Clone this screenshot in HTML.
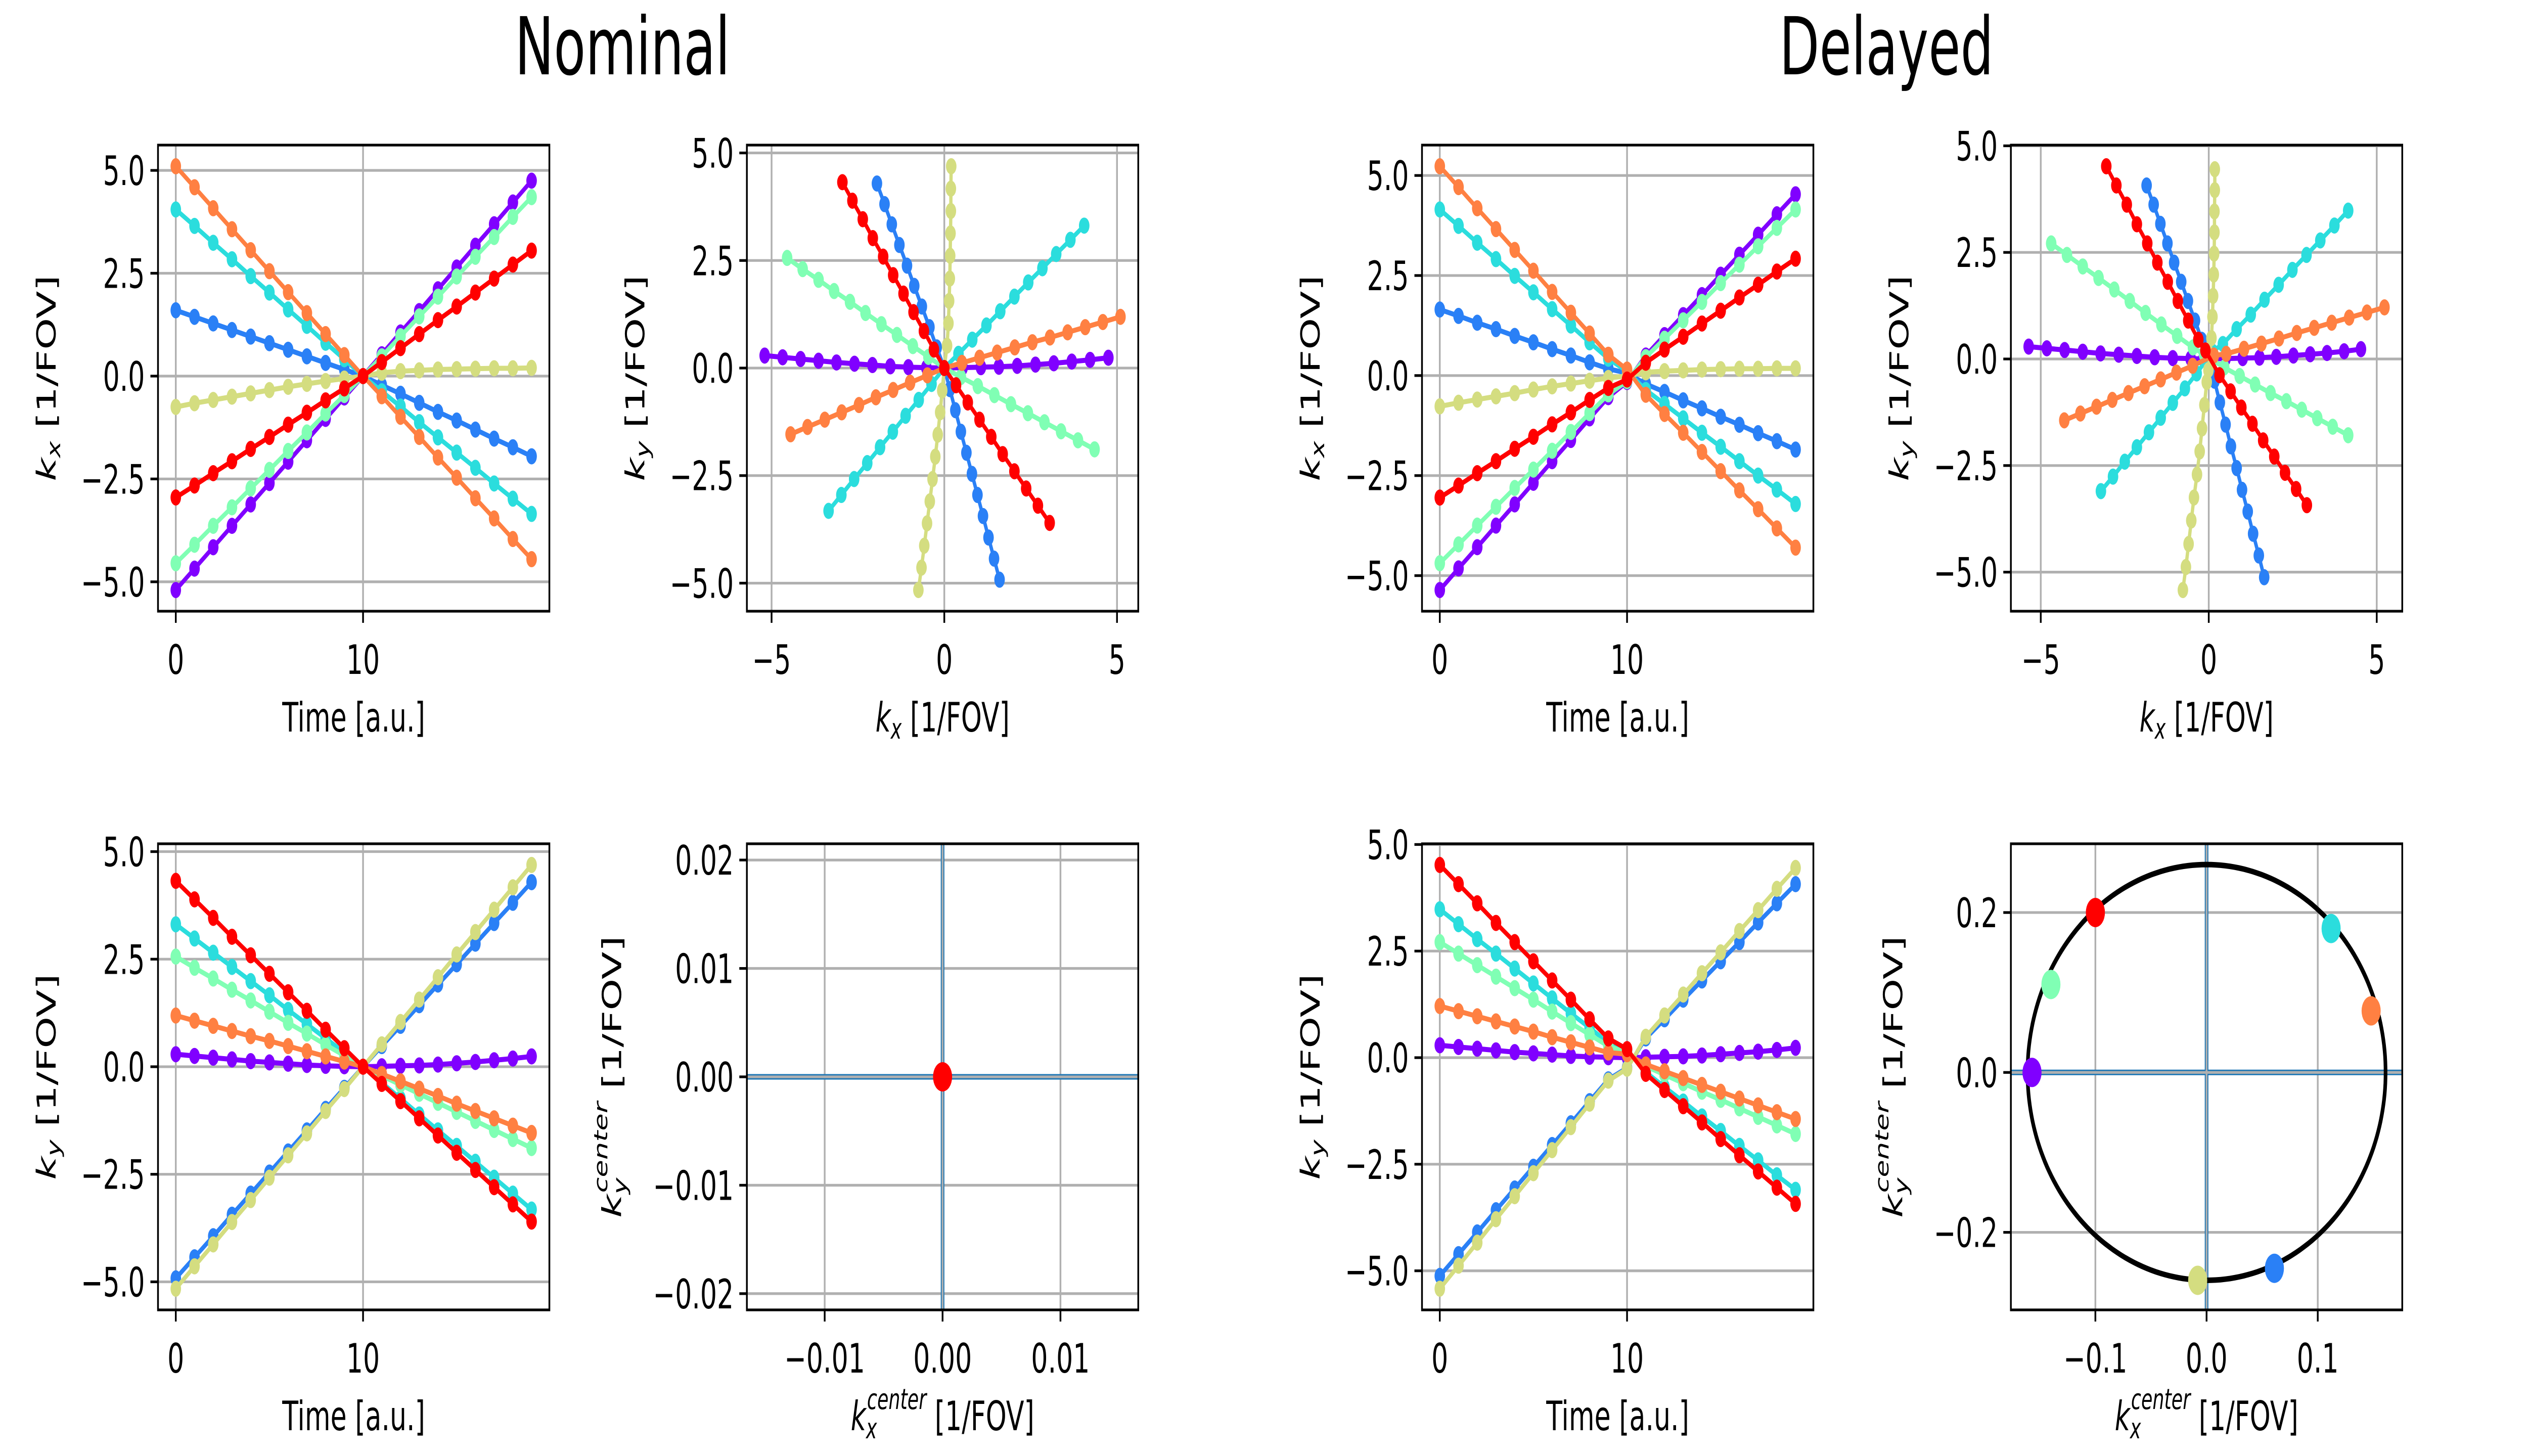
<!DOCTYPE html>
<html><head><meta charset="utf-8">
<style>
html,body{margin:0;padding:0;background:#fff;overflow:hidden;width:100vw;height:100vh;}
svg{display:block;width:100vw;height:100vh;font-family:"DejaVu Sans","Liberation Sans",sans-serif;}
</style></head>
<body>
<svg id="fig" xmlns="http://www.w3.org/2000/svg" viewBox="0 0 7680 2880" preserveAspectRatio="none">
<rect x="0" y="0" width="7680" height="2880" fill="#fff"/>
<text x="1891" y="147" font-size="158" text-anchor="middle" fill="#000">Nominal</text>
<text x="5731" y="147" font-size="158" text-anchor="middle" fill="#000">Delayed</text>
</svg>
<script>
// ---- data ----
const timePoints = [0,1,2,3,4,5,6,7,8,9,10,11,12,13,14,15,16,17,18,19];
const spokeNames = ['purple','blue','cyan','mint','khaki','orange','red'];
const spokeColors = ['#8000ff','#2a80f6','#2bdddd','#80ffb4','#d4dd80','#ff8042','#ff0000'];

// Nominal kx per spoke
const nomKxPurple = [-5.2,-4.68,-4.16,-3.64,-3.12,-2.6,-2.08,-1.56,-1.04,-0.52,0,0.53,1.06,1.58,2.11,2.64,3.17,3.69,4.22,4.75];
const nomKxBlue   = [1.6,1.44,1.28,1.12,0.96,0.8,0.64,0.48,0.32,0.16,0,-0.22,-0.43,-0.65,-0.87,-1.08,-1.3,-1.52,-1.73,-1.95];
const nomKxCyan   = [4.05,3.65,3.24,2.84,2.43,2.03,1.62,1.22,0.81,0.41,0,-0.37,-0.74,-1.12,-1.49,-1.86,-2.23,-2.61,-2.98,-3.35];
const nomKxMint   = [-4.55,-4.1,-3.64,-3.19,-2.73,-2.28,-1.82,-1.37,-0.91,-0.46,0,0.48,0.97,1.45,1.93,2.42,2.9,3.38,3.87,4.35];
const nomKxKhaki  = [-0.75,-0.66,-0.58,-0.5,-0.42,-0.34,-0.26,-0.19,-0.12,-0.06,0,0.08,0.12,0.14,0.16,0.17,0.18,0.19,0.19,0.2];
const nomKxOrange = [5.1,4.59,4.08,3.57,3.06,2.55,2.04,1.53,1.02,0.51,0,-0.49,-0.99,-1.48,-1.98,-2.47,-2.97,-3.46,-3.96,-4.45];
const nomKxRed    = [-2.95,-2.66,-2.36,-2.07,-1.77,-1.48,-1.18,-0.89,-0.59,-0.3,0,0.34,0.68,1.02,1.36,1.69,2.03,2.37,2.71,3.05];
// Nominal ky per spoke
const nomKyPurple = [0.29,0.25,0.21,0.17,0.13,0.1,0.07,0.04,0.02,0.01,0,0.01,0.02,0.03,0.05,0.08,0.11,0.15,0.19,0.24];
const nomKyBlue   = [-4.92,-4.43,-3.94,-3.44,-2.95,-2.46,-1.97,-1.48,-0.98,-0.49,0,0.48,0.95,1.43,1.91,2.38,2.86,3.34,3.81,4.29];
const nomKyCyan   = [3.31,2.98,2.65,2.32,1.99,1.66,1.32,0.99,0.66,0.33,0,-0.37,-0.74,-1.11,-1.48,-1.84,-2.21,-2.58,-2.95,-3.32];
const nomKyMint   = [2.56,2.3,2.05,1.79,1.54,1.28,1.02,0.77,0.51,0.26,0,-0.21,-0.42,-0.63,-0.84,-1.05,-1.26,-1.47,-1.68,-1.89];
const nomKyKhaki  = [-5.16,-4.64,-4.13,-3.61,-3.1,-2.58,-2.06,-1.55,-1.03,-0.52,0,0.52,1.04,1.56,2.08,2.61,3.13,3.65,4.17,4.69];
const nomKyOrange = [1.19,1.07,0.95,0.83,0.71,0.6,0.48,0.36,0.24,0.12,0,-0.17,-0.34,-0.51,-0.68,-0.86,-1.03,-1.2,-1.37,-1.54];
const nomKyRed    = [4.32,3.89,3.46,3.02,2.59,2.16,1.73,1.3,0.86,0.43,0,-0.4,-0.8,-1.2,-1.6,-2.0,-2.4,-2.8,-3.2,-3.6];
// Delayed kx per spoke
const delKxPurple = [-5.36,-4.82,-4.29,-3.75,-3.22,-2.68,-2.14,-1.61,-1.07,-0.54,-0.16,0.5,1.01,1.51,2.01,2.52,3.02,3.52,4.03,4.53];
const delKxBlue   = [1.65,1.49,1.32,1.16,0.99,0.83,0.66,0.5,0.33,0.17,0.06,-0.21,-0.41,-0.62,-0.82,-1.03,-1.23,-1.44,-1.64,-1.85];
const delKxCyan   = [4.15,3.74,3.32,2.91,2.49,2.08,1.66,1.25,0.83,0.42,0.11,-0.36,-0.71,-1.07,-1.43,-1.78,-2.14,-2.5,-2.85,-3.21];
const delKxMint   = [-4.69,-4.22,-3.75,-3.28,-2.81,-2.35,-1.88,-1.41,-0.94,-0.47,-0.14,0.46,0.92,1.38,1.84,2.31,2.77,3.23,3.69,4.15];
const delKxKhaki  = [-0.77,-0.68,-0.6,-0.52,-0.44,-0.35,-0.27,-0.2,-0.13,-0.06,-0.01,0.08,0.11,0.13,0.15,0.16,0.17,0.17,0.18,0.18];
const delKxOrange = [5.23,4.71,4.18,3.66,3.14,2.62,2.09,1.57,1.05,0.52,0.15,-0.48,-0.96,-1.43,-1.91,-2.39,-2.87,-3.34,-3.82,-4.3];
const delKxRed    = [-3.05,-2.75,-2.44,-2.14,-1.83,-1.53,-1.22,-0.92,-0.61,-0.31,-0.1,0.32,0.65,0.97,1.3,1.62,1.95,2.27,2.6,2.92];
// Delayed ky per spoke
const delKyPurple = [0.29,0.25,0.21,0.17,0.13,0.1,0.07,0.04,0.02,0.01,0,0.01,0.02,0.03,0.05,0.08,0.11,0.14,0.18,0.23];
const delKyBlue   = [-5.12,-4.61,-4.1,-3.58,-3.07,-2.56,-2.05,-1.54,-1.02,-0.51,-0.24,0.45,0.9,1.36,1.81,2.26,2.71,3.17,3.62,4.07];
const delKyCyan   = [3.48,3.13,2.78,2.44,2.09,1.74,1.39,1.04,0.7,0.35,0.18,-0.34,-0.69,-1.03,-1.38,-1.72,-2.07,-2.41,-2.76,-3.1];
const delKyMint   = [2.71,2.44,2.17,1.9,1.63,1.36,1.08,0.81,0.54,0.27,0.11,-0.2,-0.4,-0.6,-0.8,-0.99,-1.19,-1.39,-1.59,-1.79];
const delKyKhaki  = [-5.42,-4.88,-4.34,-3.79,-3.25,-2.71,-2.17,-1.63,-1.08,-0.54,-0.26,0.49,0.99,1.48,1.98,2.47,2.97,3.46,3.96,4.45];
const delKyOrange = [1.21,1.09,0.97,0.85,0.73,0.61,0.48,0.36,0.24,0.12,0.08,-0.16,-0.32,-0.48,-0.64,-0.8,-0.96,-1.12,-1.28,-1.44];
const delKyRed    = [4.52,4.07,3.62,3.16,2.71,2.26,1.81,1.36,0.9,0.45,0.2,-0.38,-0.76,-1.14,-1.52,-1.91,-2.29,-2.67,-3.05,-3.43];
// k-space centers
const nomCenterKx = [0];
const nomCenterKy = [0];
const nomCenterColors = ['#ff0000'];
const delCenterKx = [-0.157,0.061,0.112,-0.14,-0.008,0.148,-0.1];
const delCenterKy = [0.0,-0.245,0.18,0.11,-0.26,0.077,0.2];
const delEllipseRadii = [0.161,0.26];
// tick values / labels
const timeTicks = [0,10];
const timeTickLabels = ['0','10'];
const kTicks = [-5,-2.5,0,2.5,5];
const kTickLabels = ['\u22125.0','\u22122.5','0.0','2.5','5.0'];
const kTicksInt = [-5,0,5];
const kTickIntLabels = ['\u22125','0','5'];
const nomCenterTicks = [-0.01,0,0.01];
const nomCenterTickLabels = ['\u22120.01','0.00','0.01'];
const nomCenterYTicks = [-0.02,-0.01,0,0.01,0.02];
const nomCenterYTickLabels = ['\u22120.02','\u22120.01','0.00','0.01','0.02'];
const delCenterTicks = [-0.1,0,0.1];
const delCenterTickLabels = ['\u22120.1','0.0','0.1'];
const delCenterYTicks = [-0.2,0,0.2];
const delCenterYTickLabels = ['\u22120.2','0.0','0.2'];

const nomKx = [nomKxPurple,nomKxBlue,nomKxCyan,nomKxMint,nomKxKhaki,nomKxOrange,nomKxRed];
const nomKy = [nomKyPurple,nomKyBlue,nomKyCyan,nomKyMint,nomKyKhaki,nomKyOrange,nomKyRed];
const delKx = [delKxPurple,delKxBlue,delKxCyan,delKxMint,delKxKhaki,delKxOrange,delKxRed];
const delKy = [delKyPurple,delKyBlue,delKyCyan,delKyMint,delKyKhaki,delKyOrange,delKyRed];

// ---- rendering ----
const NS = 'http://www.w3.org/2000/svg';
const svg = document.getElementById('fig');
function mk(tag, attrs, parent){
  const e = document.createElementNS(NS, tag);
  for (const k in attrs) e.setAttribute(k, attrs[k]);
  (parent||svg).appendChild(e);
  return e;
}
function autoLim(arrs){
  let lo=Infinity, hi=-Infinity;
  arrs.forEach(a=>a.forEach(v=>{ if(v<lo)lo=v; if(v>hi)hi=v; }));
  const m=(hi-lo)*0.05; return [lo-m, hi+m];
}
const GRID='#b0b0b0';
function axes(name, box, xlim, ylim, xt, xtl, yt, ytl, xlabelFn, ylabelFn){
  const g = mk('g', {});
  
  
  const sx = v => box.x + (v - xlim[0])/(xlim[1]-xlim[0])*box.w;
  const sy = v => box.y + box.h - (v - ylim[0])/(ylim[1]-ylim[0])*box.h;
  const grid = mk('g', {}, g);
  
  
  xt.forEach((v,i)=>{
    const X=sx(v);
    mk('line',{x1:X,x2:X,y1:box.y,y2:box.y+box.h,stroke:GRID,'stroke-width':5.3},grid);
    const t=mk('line',{x1:X,x2:X,y1:box.y+box.h,y2:box.y+box.h+23,stroke:'#000','stroke-width':5.3},g);
    
    
    const lb=mk('text',{x:X,y:box.y+box.h+124,'font-size':80,'text-anchor':'middle',fill:'#000'},g);
    
    
    lb.textContent=xtl[i];
  });
  yt.forEach((v,i)=>{
    const Y=sy(v);
    mk('line',{x1:box.x,x2:box.x+box.w,y1:Y,y2:Y,stroke:GRID,'stroke-width':5.3},grid);
    const t=mk('line',{x1:box.x-23,x2:box.x,y1:Y,y2:Y,stroke:'#000','stroke-width':5.3},g);
    
    
    const lb=mk('text',{x:box.x-40,y:Y+29,'font-size':80,'text-anchor':'end',fill:'#000'},g);
    
    
    lb.textContent=ytl[i];
  });
  const plot = mk('g', {}, g);
  
  
  const xl = mk('text',{x:box.x+box.w/2,y:box.y+box.h+238,'font-size':80,'text-anchor':'middle',fill:'#000'},g);
  
  
  xlabelFn(xl);
  const yx = box.x - (box.ylabOff||311), yy = box.y+box.h/2;
  const yl = mk('text',{x:yx,y:yy,'font-size':80,'text-anchor':'middle',fill:'#000',transform:'rotate(-90 '+yx+' '+yy+')'},g);
  
  
  ylabelFn(yl);
  return {g, plot, sx, sy, box};
}
function spines(ax){
  const r = mk('rect',{x:ax.box.x,y:ax.box.y,width:ax.box.w,height:ax.box.h,fill:'none',stroke:'#000','stroke-width':5.3},ax.g);
  
  
}
function series(ax, xs, ys, color, nm){
  const sg = mk('g',{},ax.plot);
  
  
  const pts = xs.map((v,i)=>ax.sx(v).toFixed(1)+','+ax.sy(ys[i]).toFixed(1)).join(' ');
  mk('polyline',{points:pts,fill:'none',stroke:color,'stroke-width':10,'stroke-linejoin':'round','stroke-linecap':'round'},sg);
  xs.forEach((v,i)=>{
    const c = mk('circle',{cx:ax.sx(v),cy:ax.sy(ys[i]),r:16,fill:color},sg);
    
    
  });
}
function tsp(el, txt, attrs){ const t=mk('tspan',attrs||{},el); t.textContent=txt; return t; }
function labelTime(el){ el.textContent='Time [a.u.]'; }
function labelK(sub){ return el=>{ tsp(el,'k',{'font-style':'italic'}); tsp(el,sub,{'font-style':'italic','font-size':56,dy:14}); tsp(el,' [1/FOV]',{dy:-14}); }; }
function labelKc(sub){ return el=>{ tsp(el,'k',{'font-style':'italic'}); tsp(el,sub,{'font-style':'italic','font-size':56,dy:16}); tsp(el,'center',{'font-style':'italic','font-size':56,dx:-30,dy:-58}); tsp(el,' [1/FOV]',{dy:42}); }; }

const colX = [480, 2269, 4320, 6109];
const rowY = [287, 1669];
const W = 1189, H = 922;

function kPanels(prefix, col0, KX, KY){
  const tlim = autoLim([timePoints]);
  const kxlim = autoLim(KX), kylim = autoLim(KY);
  let ax = axes(prefix+'-kx-vs-time',{x:colX[col0],y:rowY[0],w:W,h:H},tlim,kxlim,timeTicks,timeTickLabels,kTicks,kTickLabels,labelTime,labelK('x'));
  KX.forEach((s,i)=>series(ax,timePoints,s,spokeColors[i],'spoke-'+spokeNames[i]));
  spines(ax);
  ax = axes(prefix+'-ky-vs-kx',{x:colX[col0+1],y:rowY[0],w:W,h:H},kxlim,kylim,kTicksInt,kTickIntLabels,kTicks,kTickLabels,labelK('x'),labelK('y'));
  KX.forEach((s,i)=>series(ax,s,KY[i],spokeColors[i],'spoke-'+spokeNames[i]));
  spines(ax);
  ax = axes(prefix+'-ky-vs-time',{x:colX[col0],y:rowY[1],w:W,h:H},tlim,kylim,timeTicks,timeTickLabels,kTicks,kTickLabels,labelTime,labelK('y'));
  KY.forEach((s,i)=>series(ax,timePoints,s,spokeColors[i],'spoke-'+spokeNames[i]));
  spines(ax);
}
kPanels('nominal',0,nomKx,nomKy);
kPanels('delayed',2,delKx,delKy);

function centerLines(ax){
  const X0=ax.sx(0), Y0=ax.sy(0);
  mk('line',{x1:ax.box.x,x2:ax.box.x+ax.box.w,y1:Y0,y2:Y0,stroke:'#1f77b4','stroke-width':11},ax.plot);
  mk('line',{x1:X0,x2:X0,y1:ax.box.y,y2:ax.box.y+ax.box.h,stroke:'#1f77b4','stroke-width':11},ax.plot);
  mk('line',{x1:ax.box.x,x2:ax.box.x+ax.box.w,y1:Y0,y2:Y0,stroke:GRID,'stroke-width':5.3},ax.plot);
  mk('line',{x1:X0,x2:X0,y1:ax.box.y,y2:ax.box.y+ax.box.h,stroke:GRID,'stroke-width':5.3},ax.plot);
}
{
  const xlim=[-0.0166,0.0166], ylim=[-0.0215,0.0215];
  const box={x:colX[1],y:rowY[1],w:W,h:H,ylabOff:382};
  const ax = axes('nominal-kcenter',box,xlim,ylim,nomCenterTicks,nomCenterTickLabels,nomCenterYTicks,nomCenterYTickLabels,labelKc('x'),labelKc('y'));
  centerLines(ax);
  nomCenterKx.forEach((v,i)=>{
    const c = mk('circle',{cx:ax.sx(v),cy:ax.sy(nomCenterKy[i]),r:29,fill:nomCenterColors[i]},ax.plot);
    
    
  });
  spines(ax);
}
{
  const xlim=[-0.176,0.176], ylim=[-0.297,0.286];
  const box={x:colX[3],y:rowY[1],w:W,h:H,ylabOff:330};
  const ax = axes('delayed-kcenter',box,xlim,ylim,delCenterTicks,delCenterTickLabels,delCenterYTicks,delCenterYTickLabels,labelKc('x'),labelKc('y'));
  centerLines(ax);
  const pts=[];
  for(let i=0;i<=240;i++){ const a=i/240*2*Math.PI; pts.push(ax.sx(delEllipseRadii[0]*Math.cos(a)).toFixed(1)+','+ax.sy(delEllipseRadii[1]*Math.sin(a)).toFixed(1)); }
  const el = mk('polyline',{points:pts.join(' '),fill:'none',stroke:'#000','stroke-width':11},ax.plot);
  
  
  delCenterKx.forEach((v,i)=>{
    const c = mk('circle',{cx:ax.sx(v),cy:ax.sy(delCenterKy[i]),r:29,fill:spokeColors[i]},ax.plot);
    
    
  });
  spines(ax);
}
</script>
</body></html>
